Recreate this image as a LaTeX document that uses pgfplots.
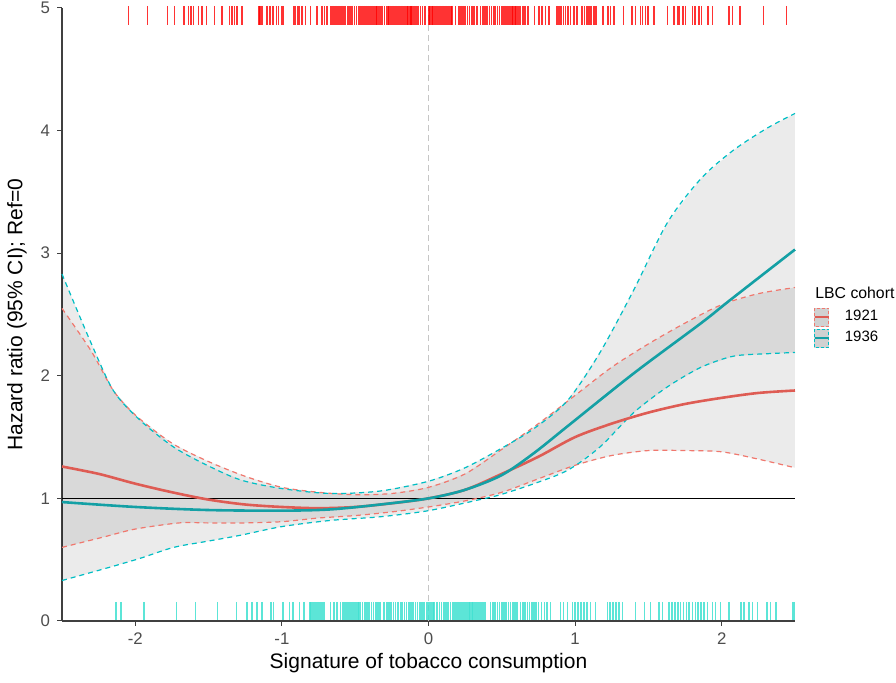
\documentclass[border=0pt]{standalone}
\usepackage{fontspec}
\setmainfont{Liberation Sans}
\usepackage{pgfplots}
\pgfplotsset{compat=1.18}
\usepackage{pgfplotstable}
\usepgfplotslibrary{fillbetween}

\definecolor{redline}{RGB}{222,92,84}
\definecolor{reddash}{RGB}{240,120,110}
\definecolor{cyanline}{RGB}{20,160,165}
\definecolor{cyandash}{RGB}{0,190,196}
\definecolor{rugred}{RGB}{255,0,0}
\definecolor{rugcyan}{RGB}{64,224,208}
\definecolor{tickgray}{RGB}{77,77,77}

% fitted hazard ratio and 95% CI, cohort 1921
\pgfplotstableread{
x y
-2.5 1.26
-2.25 1.20
-2.0 1.12
-1.75 1.05
-1.5 0.99
-1.25 0.95
-1.0 0.93
-0.75 0.92
-0.5 0.93
-0.25 0.96
0 1.00
0.25 1.07
0.5 1.20
0.75 1.34
1.0 1.50
1.25 1.61
1.5 1.70
1.75 1.77
2.0 1.82
2.25 1.86
2.5 1.88
}\fitA
\pgfplotstableread{
x y
-2.5 2.55
-2.3 2.20
-2.15 1.88
-2.0 1.68
-1.75 1.45
-1.5 1.30
-1.25 1.18
-1.0 1.09
-0.75 1.05
-0.5 1.03
-0.25 1.04
0 1.09
0.25 1.20
0.5 1.40
0.75 1.61
1.0 1.84
1.25 2.07
1.5 2.26
1.75 2.43
2.0 2.58
2.25 2.67
2.5 2.72
}\upA
\pgfplotstableread{
x y
-2.5 0.60
-2.2 0.69
-2.0 0.75
-1.7 0.80
-1.5 0.80
-1.25 0.80
-1.0 0.81
-0.75 0.84
-0.5 0.86
-0.25 0.89
0 0.93
0.25 0.98
0.5 1.05
0.75 1.16
1.0 1.27
1.25 1.35
1.5 1.39
1.75 1.39
2.0 1.38
2.25 1.32
2.5 1.25
}\loA

% cohort 1936
\pgfplotstableread{
x y
-2.5 0.97
-2.0 0.93
-1.5 0.905
-1.0 0.90
-0.67 0.91
-0.33 0.95
0 1.00
0.25 1.07
0.5 1.19
0.72 1.37
0.95 1.59
1.4 2.02
1.86 2.43
2.06 2.62
2.5 3.03
}\fitB
\pgfplotstableread{
x y
-2.5 2.83
-2.31 2.29
-2.15 1.88
-1.97 1.64
-1.74 1.42
-1.51 1.27
-1.28 1.15
-1.0 1.08
-0.67 1.04
-0.33 1.06
0 1.14
0.25 1.25
0.5 1.41
0.72 1.57
0.95 1.80
1.17 2.19
1.40 2.70
1.63 3.25
1.86 3.61
2.08 3.84
2.31 4.02
2.5 4.14
}\upB
\pgfplotstableread{
x y
-2.5 0.33
-2.2 0.43
-1.97 0.51
-1.74 0.60
-1.51 0.65
-1.28 0.70
-1.0 0.77
-0.67 0.82
-0.33 0.85
0 0.90
0.35 0.99
0.49 1.03
0.72 1.12
0.95 1.23
1.17 1.42
1.40 1.70
1.63 1.91
1.86 2.07
2.08 2.16
2.31 2.18
2.5 2.19
}\loB

% rug positions
\pgfplotstableread[row sep=\\]{x\\
-2.046\\-1.916\\-1.780\\-1.734\\-1.666\\-1.636\\-1.620\\-1.602\\-1.568\\-1.545\\-1.515\\-1.461\\-1.408\\-1.358\\-1.340\\-1.324\\-1.306\\-1.272\\
-1.158\\-1.149\\-1.140\\-1.131\\-1.101\\-1.083\\-1.060\\-1.038\\-1.022\\-0.999\\-0.988\\
-0.919\\-0.908\\-0.892\\-0.879\\-0.862\\-0.840\\-0.806\\-0.760\\-0.726\\-0.710\\-0.692\\-0.669\\
-0.657\\-0.647\\-0.637\\-0.627\\-0.617\\-0.607\\-0.597\\-0.587\\-0.577\\-0.567\\
-0.551\\-0.537\\-0.521\\-0.505\\-0.491\\-0.476\\
-0.464\\-0.452\\-0.440\\-0.425\\-0.412\\-0.398\\-0.385\\-0.372\\-0.360\\-0.350\\
-0.339\\-0.326\\-0.313\\-0.300\\-0.287\\
-0.278\\-0.268\\-0.258\\-0.248\\-0.238\\-0.228\\-0.218\\-0.208\\-0.198\\-0.188\\-0.178\\-0.168\\-0.158\\-0.148\\-0.138\\-0.128\\-0.118\\-0.111\\
-0.100\\-0.085\\-0.070\\-0.055\\-0.040\\-0.025\\
0.002\\0.012\\0.022\\0.032\\0.042\\0.052\\0.062\\0.072\\0.082\\0.092\\0.102\\0.112\\0.122\\0.132\\0.142\\0.152\\0.162\\
0.184\\0.207\\0.220\\0.235\\0.250\\0.265\\0.280\\0.295\\0.310\\0.332\\
0.355\\0.370\\0.385\\0.400\\0.415\\0.430\\0.446\\0.457\\0.470\\0.485\\0.500\\0.515\\0.525\\0.537\\
0.548\\0.558\\0.568\\0.578\\0.588\\0.598\\0.608\\0.618\\0.628\\
0.646\\0.660\\0.678\\0.724\\0.753\\0.776\\0.799\\0.821\\
0.878\\0.890\\0.905\\0.920\\0.935\\0.950\\0.969\\0.992\\1.015\\
1.049\\1.065\\1.080\\1.095\\1.110\\1.128\\1.144\\1.190\\1.226\\1.242\\1.265\\1.329\\1.390\\1.413\\1.447\\1.459\\1.481\\1.497\\1.538\\
1.629\\1.675\\1.698\\1.709\\1.738\\1.754\\1.800\\1.816\\1.845\\1.861\\1.907\\1.937\\2.050\\2.073\\2.123\\2.285\\2.442\\
}\rugA
\pgfplotstableread[row sep=\\]{x\\
-2.130\\-2.098\\-1.939\\-1.720\\-1.590\\-1.438\\-1.311\\-1.238\\-1.204\\-1.169\\-1.135\\-1.074\\-1.056\\-0.992\\-0.947\\-0.924\\-0.881\\-0.851\\
-0.810\\-0.800\\-0.790\\-0.780\\-0.770\\-0.760\\-0.750\\-0.740\\-0.730\\-0.720\\-0.710\\
-0.669\\-0.646\\-0.623\\-0.601\\
-0.582\\-0.572\\-0.562\\-0.552\\-0.542\\-0.532\\-0.522\\-0.512\\-0.502\\-0.492\\-0.482\\-0.476\\
-0.464\\-0.450\\-0.435\\-0.420\\-0.405\\-0.390\\-0.375\\-0.360\\-0.345\\-0.330\\-0.305\\
-0.282\\-0.270\\-0.255\\-0.240\\-0.225\\-0.210\\-0.191\\
-0.180\\-0.165\\-0.150\\-0.135\\-0.120\\-0.105\\-0.090\\-0.075\\-0.060\\-0.045\\-0.030\\
-0.009\\0.001\\0.011\\0.021\\0.031\\0.036\\
0.059\\0.075\\0.090\\0.105\\0.120\\0.135\\0.150\\
0.165\\0.175\\0.185\\0.195\\0.205\\0.215\\0.225\\0.235\\0.245\\0.255\\0.265\\0.275\\0.285\\0.295\\0.305\\0.315\\0.325\\0.335\\0.345\\0.355\\0.365\\0.378\\
0.389\\0.423\\0.440\\0.455\\0.470\\0.485\\0.500\\0.515\\0.530\\0.545\\0.560\\0.575\\0.590\\0.605\\
0.628\\0.645\\0.660\\0.675\\0.690\\0.705\\0.720\\0.735\\0.750\\0.770\\0.790\\0.810\\0.833\\
0.901\\0.920\\0.947\\0.981\\1.000\\1.020\\1.040\\1.060\\1.080\\1.106\\1.140\\1.220\\1.240\\1.260\\1.280\\1.300\\1.322\\
1.413\\1.474\\1.515\\1.572\\1.595\\1.640\\1.660\\1.680\\1.700\\1.720\\1.740\\1.760\\1.777\\1.800\\1.820\\1.840\\1.860\\1.880\\1.902\\
1.937\\1.959\\1.993\\2.050\\2.130\\2.152\\2.187\\2.210\\2.244\\2.307\\2.334\\2.369\\2.483\\2.494\\
}\rugB

\begin{document}
\begin{tikzpicture}
\begin{axis}[
  scale only axis,
  width=366.5pt, height=306.5pt,
  xmin=-2.5, xmax=2.5, ymin=0, ymax=5,
  axis lines*=left,
  axis line style={draw=black!75, line width=0.6pt},
  xtick={-2,-1,0,1,2}, ytick={0,1,2,3,4,5},
  tick style={draw=black!75, line width=0.5pt},
  tick align=outside, major tick length=2.5pt,
  tick label style={font=\fontsize{8.4}{10}\selectfont, text=tickgray},
  /pgf/number format/assume math mode=true,
  xlabel={Signature of tobacco consumption},
  ylabel={Hazard ratio (95\% CI); Ref=0},
  label style={font=\fontsize{10.5}{12}\selectfont},
  xlabel style={at={(axis description cs:0.5,-0.0685)}, anchor=center},
  ylabel style={at={(axis description cs:-0.0614,0.5)}, anchor=center},
  clip=false,
  set layers,
  legend style={draw=none, fill=none, inner sep=0pt,
    at={(axis description cs:1.0246,0.512)}, anchor=north west,
    font=\fontsize{7.5}{9}\selectfont, row sep=1pt,
    nodes={inner sep=0.8pt},
    /tikz/every odd column/.append style={column sep=6.7pt}},
  legend cell align=left,
]

% confidence bands
\addplot[draw=none, name path=uA, forget plot] table {\upA};
\addplot[draw=none, name path=lA, forget plot] table {\loA};
\addplot[draw=none, name path=uB, forget plot] table {\upB};
\addplot[draw=none, name path=lB, forget plot] table {\loB};
\addplot[fill=black, fill opacity=0.08, draw=none, on layer=pre main, forget plot] fill between[of=uA and lA];
\addplot[fill=black, fill opacity=0.08, draw=none, on layer=pre main, forget plot] fill between[of=uB and lB];

% reference lines
\addplot[gray!45, line width=0.5pt, dash pattern=on 3pt off 2pt, forget plot] coordinates {(0,0) (0,5)};
\addplot[black, line width=0.6pt, forget plot] coordinates {(-2.5,1) (2.5,1)};

% CI bounds
\addplot[reddash, line width=0.6pt, dash pattern=on 2.5pt off 2pt, smooth, forget plot] table {\upA};
\addplot[reddash, line width=0.6pt, dash pattern=on 2.5pt off 2pt, smooth, forget plot] table {\loA};
\addplot[cyandash, line width=0.6pt, dash pattern=on 2.5pt off 2pt, smooth, forget plot] table {\upB};
\addplot[cyandash, line width=0.6pt, dash pattern=on 2.5pt off 2pt, smooth, forget plot] table {\loB};

% fitted curves
\addplot[redline, line width=1.3pt, smooth, forget plot] table {\fitA};
\addplot[cyanline, line width=1.3pt, smooth, forget plot] table {\fitB};

% rugs
\addplot[only marks, mark=|, mark size=4.75pt, mark options={draw=rugred, draw opacity=0.8, line width=0.8pt}, forget plot] table[x index=0, y index=0, y expr=4.94] {\rugA};
\addplot[only marks, mark=|, mark size=4.5pt, mark options={draw=rugcyan, draw opacity=0.85, line width=0.8pt}, forget plot] table[x index=0, y index=0, y expr=0.0816] {\rugB};

\addlegendimage{legend image code/.code={
  \fill[black!18] (0pt,-4.5pt) rectangle (7pt,4.5pt);
  \draw[reddash, line width=0.5pt, dash pattern=on 1.5pt off 1pt] (0pt,-4.5pt) rectangle (7pt,4.5pt);
  \draw[redline, line width=1.2pt] (0pt,0pt) -- (7pt,0pt);}}
\addlegendentry{1921}
\addlegendimage{legend image code/.code={
  \fill[black!18] (0pt,-4.5pt) rectangle (7pt,4.5pt);
  \draw[cyandash, line width=0.5pt, dash pattern=on 1.5pt off 1pt] (0pt,-4.5pt) rectangle (7pt,4.5pt);
  \draw[cyanline, line width=1.2pt] (0pt,0pt) -- (7pt,0pt);}}
\addlegendentry{1936}

\node[anchor=west, inner sep=0pt, font=\fontsize{7.9}{9.5}\selectfont] at (rel axis cs:1.0273,0.535) {LBC cohort};

\coordinate (bbl) at (rel axis cs:-0.0846,-0.1011);
\coordinate (btr) at (rel axis cs:1.1378,1.01305);
\end{axis}
\pgfresetboundingbox
\path (bbl) rectangle (btr);
\end{tikzpicture}
\end{document}
